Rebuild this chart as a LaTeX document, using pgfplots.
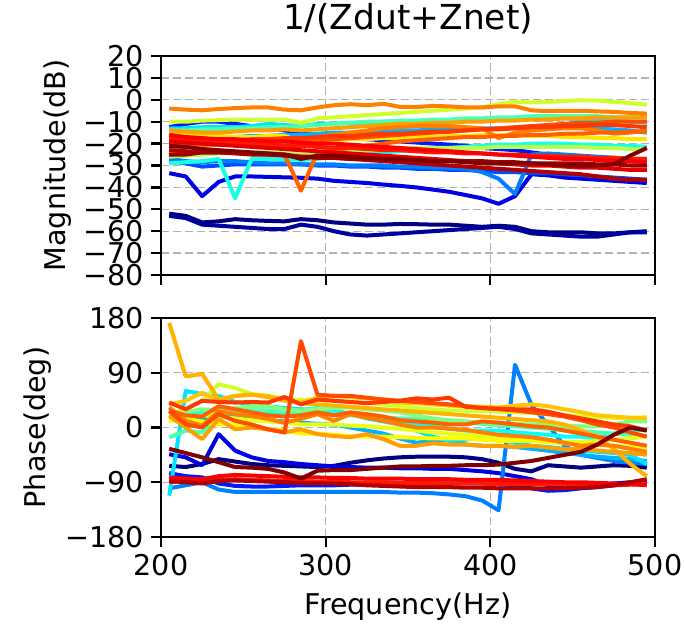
\documentclass[border=0pt]{standalone}
\usepackage{pgfplots}
\pgfplotsset{compat=1.18}
\usepackage{fontspec}
\setmainfont{DejaVu Sans}

% jet colormap samples
\definecolor{j00}{rgb}{0,0,0.5}
\definecolor{j03}{rgb}{0,0,0.62}
\definecolor{j10}{rgb}{0,0,0.9}
\definecolor{j15}{rgb}{0,0.1,1}
\definecolor{j20}{rgb}{0,0.3,1}
\definecolor{j25}{rgb}{0,0.5,1}
\definecolor{j30}{rgb}{0,0.7,1}
\definecolor{j35}{rgb}{0,0.9,1}
\definecolor{j38}{rgb}{0.02,1,0.98}
\definecolor{j40}{rgb}{0.1,1,0.9}
\definecolor{j45}{rgb}{0.3,1,0.7}
\definecolor{j50}{rgb}{0.5,1,0.5}
\definecolor{j55}{rgb}{0.7,1,0.3}
\definecolor{j58}{rgb}{0.82,1,0.18}
\definecolor{j60}{rgb}{0.9,1,0.1}
\definecolor{j63}{rgb}{1,0.98,0}
\definecolor{j65}{rgb}{1,0.9,0}
\definecolor{j68}{rgb}{1,0.78,0}
\definecolor{j70}{rgb}{1,0.7,0}
\definecolor{j72}{rgb}{1,0.62,0}
\definecolor{j75}{rgb}{1,0.5,0}
\definecolor{j78}{rgb}{1,0.38,0}
\definecolor{j80}{rgb}{1,0.3,0}
\definecolor{j82}{rgb}{1,0.22,0}
\definecolor{j85}{rgb}{1,0.1,0}
\definecolor{j88}{rgb}{0.98,0,0}
\definecolor{j90}{rgb}{0.9,0,0}
\definecolor{j95}{rgb}{0.7,0,0}
\definecolor{j97}{rgb}{0.62,0,0}
\definecolor{j100}{rgb}{0.5,0,0}

\pgfplotsset{
  jetax/.style={
    scale only axis, width=247pt, height=109.5pt,
    xmin=200, xmax=500, xtick={200,300,400,500},
    grid=major, grid style={dash pattern=on 4pt off 2pt, color=black!30, line width=0.6pt},
    tick align=outside, tick pos=left, major tick length=5pt,
    every tick/.style={black, line width=1.15pt},
    axis line style={line width=1.15pt},
    tick label style={font=\fontsize{14.3}{16}\selectfont},
    label style={font=\fontsize{14.3}{16}\selectfont},
    every axis plot/.append style={line width=2pt, line join=round},
  }
}

\begin{document}
\begin{tikzpicture}
\path[use as bounding box] (-80.5pt,-45pt) rectangle (261.5pt,268.5pt);

% magnitude
\begin{axis}[jetax, at={(0,131pt)}, anchor=south west,
  ymin=-80, ymax=20, ytick={-80,-70,...,20},
  yticklabels={−80,−70,−60,−50,−40,−30,−20,−10,0,10,20},
  xticklabels={},
  title={1/(Zdut+Znet)},
  title style={font=\fontsize{17.2}{20}\selectfont, at={(axis description cs:0.5,1)}, anchor=base, yshift=7.5pt},
  ylabel={Magnitude(dB)},
  ylabel style={at={(axis description cs:-0.2085,0.5)}, anchor=center},
]
\addplot[j00] coordinates {(205,-52)(215,-53)(225,-56)(235,-55.5)(245,-54.5)(255,-55)(265,-55.3)(275,-55.5)(285,-54.5)(295,-55)(305,-56)(315,-56.5)(325,-57)(335,-57)(345,-56.7)(355,-56.8)(365,-57)(375,-57)(385,-57.5)(395,-58)(405,-57.5)(415,-58)(425,-60)(435,-60.5)(445,-60.5)(455,-60.5)(465,-61)(475,-61)(485,-60.5)(495,-60)};
\addplot[j03] coordinates {(205,-53)(215,-54)(225,-57)(235,-57.5)(245,-58)(255,-58.5)(265,-59)(275,-59)(285,-57)(295,-58)(305,-60)(315,-61.5)(325,-62)(335,-61.5)(345,-61)(355,-60.5)(365,-60)(375,-59.5)(385,-59)(395,-58.5)(405,-58)(415,-59)(425,-61)(435,-61.5)(445,-62)(455,-62.5)(465,-62.5)(475,-61.5)(485,-60.5)(495,-60.5)};
\addplot[j10] coordinates {(205,-33.5)(215,-35)(225,-44)(235,-37.5)(245,-35)(255,-35)(265,-35.2)(275,-35.4)(285,-35.6)(295,-36)(305,-37)(315,-37.5)(325,-38)(335,-38.7)(345,-39.3)(355,-40)(365,-41)(375,-42)(385,-43.5)(395,-45)(405,-47.5)(415,-44)(425,-34)(435,-34.5)(445,-35.5)(455,-36)(465,-36.5)(475,-37)(485,-37.5)(495,-38)};
\addplot[j15] coordinates {(205,-12.5)(215,-11)(225,-10)(235,-10)(245,-11)(255,-12)(265,-13)(275,-14)(285,-15)(295,-16)(305,-17)(315,-17.5)(325,-18)(335,-18.5)(345,-19)(355,-19.5)(365,-20)(375,-20.5)(385,-21)(395,-22)(405,-22.5)(415,-23)(425,-24)(435,-25)(445,-25.5)(455,-26)(465,-26.5)(475,-26.5)(485,-27)(495,-27)};
\addplot[j20] coordinates {(205,-28)(215,-29)(225,-30.5)(235,-30)(245,-29.5)(255,-29.5)(265,-29.5)(275,-29.5)(285,-29.5)(295,-30)(305,-30)(315,-30.5)(325,-30.5)(335,-31)(345,-31)(355,-31.5)(365,-31.5)(375,-32)(385,-32)(395,-32.5)(405,-33)(415,-33)(425,-33.5)(435,-33.5)(445,-34)(455,-34.5)(465,-35)(475,-35.5)(485,-36)(495,-36.5)};
\addplot[j25] coordinates {(205,-27)(215,-28)(225,-28.5)(235,-28)(245,-28)(255,-28.5)(265,-29)(275,-29)(285,-29.5)(295,-29.5)(305,-29.5)(315,-30)(325,-30)(335,-30)(345,-30.5)(355,-30.5)(365,-31)(375,-31)(385,-31.5)(395,-33)(405,-36)(415,-43)(425,-25)(435,-24.5)(445,-25)(455,-25.5)(465,-26)(475,-26.5)(485,-27)(495,-28)};
\addplot[j30] coordinates {(205,-18)(215,-18)(225,-17.5)(235,-17)(245,-17)(255,-16.5)(265,-16.5)(275,-16)(285,-16)(295,-15.5)(305,-15)(315,-15)(325,-14.5)(335,-14.5)(345,-14)(355,-14)(365,-13.5)(375,-13.5)(385,-13)(395,-13)(405,-13)(415,-13)(425,-13)(435,-12.5)(445,-12.5)(455,-12.5)(465,-13)(475,-13.5)(485,-14)(495,-15)};
\addplot[j35] coordinates {(205,-13)(215,-13)(225,-12.5)(235,-12.5)(245,-12.5)(255,-12)(265,-11)(275,-11.5)(285,-12)(295,-11)(305,-11)(315,-10.5)(325,-10.5)(335,-10)(345,-10)(355,-10)(365,-9.5)(375,-9.5)(385,-9)(395,-9)(405,-9)(415,-8.5)(425,-8.5)(435,-8.5)(445,-8.5)(455,-9)(465,-9.5)(475,-9.5)(485,-10)(495,-10.5)};
\addplot[j40] coordinates {(205,-29)(215,-28.5)(225,-28)(235,-27)(245,-45)(255,-27)(265,-27)(275,-27)(285,-27.5)(295,-27)(305,-26)(315,-25)(325,-24.5)(335,-24)(345,-23.5)(355,-23)(365,-22.5)(375,-22)(385,-21.5)(395,-21)(405,-20.5)(415,-20.5)(425,-20)(435,-20)(445,-20)(455,-20.5)(465,-20.5)(475,-21)(485,-21)(495,-21.5)};
\addplot[j45] coordinates {(205,-14)(215,-14)(225,-13.5)(235,-13.5)(245,-13)(255,-13)(265,-12.5)(275,-12.5)(285,-12)(295,-11.5)(305,-11)(315,-10.5)(325,-10)(335,-10)(345,-9.5)(355,-9.5)(365,-9)(375,-9)(385,-8.5)(395,-8.5)(405,-8)(415,-8)(425,-7.5)(435,-7.5)(445,-7.5)(455,-7.5)(465,-7.5)(475,-8)(485,-8)(495,-8)};
\addplot[j55] coordinates {(205,-26)(215,-25.5)(225,-25)(235,-24.5)(245,-24)(255,-24)(265,-24)(275,-24.5)(285,-24.5)(295,-24)(305,-23.5)(315,-23)(325,-23)(335,-22.5)(345,-22.5)(355,-22)(365,-22)(375,-22)(385,-22)(395,-22)(405,-21.5)(415,-21.5)(425,-21.5)(435,-21.5)(445,-21.5)(455,-21.5)(465,-22)(475,-22)(485,-22.5)(495,-22.5)};
\addplot[j58] coordinates {(205,-10)(215,-10)(225,-9.5)(235,-9.3)(245,-9)(255,-9)(265,-9)(275,-9)(285,-10.5)(295,-8.5)(305,-8)(315,-7.5)(325,-7)(335,-6.5)(345,-6)(355,-5.5)(365,-5)(375,-4.5)(385,-4)(395,-3.5)(405,-2)(415,-1)(425,-1.2)(435,-1)(445,-0.5)(455,-0.2)(465,-0.3)(475,-1)(485,-1.5)(495,-2.3)};
\addplot[j65] coordinates {(205,-16)(215,-16)(225,-16.5)(235,-16.5)(245,-17)(255,-17)(265,-16.5)(275,-16.5)(285,-19)(295,-19)(305,-18.5)(315,-18)(325,-18)(335,-17.5)(345,-17.5)(355,-17)(365,-17)(375,-16.5)(385,-16.5)(395,-16)(405,-16)(415,-16)(425,-16.5)(435,-16.5)(445,-17)(455,-17)(465,-17.5)(475,-17.5)(485,-18)(495,-18)};
\addplot[j72] coordinates {(205,-14)(215,-14.5)(225,-15)(235,-15)(245,-14.5)(255,-14)(265,-14)(275,-13.5)(285,-14)(295,-13.5)(305,-13)(315,-12.5)(325,-12)(335,-11.5)(345,-11)(355,-11)(365,-10.5)(375,-10.5)(385,-10)(395,-10)(405,-9.5)(415,-9.5)(425,-9)(435,-9)(445,-8.5)(455,-8.5)(465,-8)(475,-8)(485,-8)(495,-8)};
\addplot[j75] coordinates {(205,-4)(215,-4.5)(225,-4.8)(235,-4.2)(245,-3.8)(255,-3.5)(265,-3.5)(275,-4.5)(285,-4.8)(295,-3.5)(305,-2.5)(315,-2)(325,-2.5)(335,-1.8)(345,-3.2)(355,-3.3)(365,-2.8)(375,-3)(385,-3.5)(395,-3.5)(405,-3)(415,-3)(425,-4.8)(435,-5.2)(445,-5)(455,-5)(465,-5.3)(475,-5.5)(485,-6)(495,-6.3)};
\addplot[j75] coordinates {(205,-22)(215,-21.5)(225,-21)(235,-20.5)(245,-20)(255,-20)(265,-19.5)(275,-19)(285,-18)(295,-17)(305,-16)(315,-15)(325,-14)(335,-13)(345,-12.5)(355,-12)(365,-12)(375,-12)(385,-12.5)(395,-13)(405,-17.5)(415,-15)(425,-14)(435,-13.5)(445,-13)(455,-13)(465,-14)(475,-15.5)(485,-15)(495,-14)};
\addplot[j78] coordinates {(205,-25)(215,-24.5)(225,-24)(235,-24)(245,-24)(255,-24.5)(265,-24.5)(275,-25)(285,-41.5)(295,-24)(305,-23)(315,-22)(325,-21)(335,-20)(345,-19)(355,-18.5)(365,-18)(375,-17.5)(385,-17)(395,-17)(405,-16.5)(415,-16.5)(425,-16)(435,-16)(445,-15.5)(455,-15.5)(465,-15)(475,-15)(485,-14.5)(495,-14.5)};
\addplot[j80] coordinates {(205,-20)(215,-20)(225,-20)(235,-20)(245,-20)(255,-19.5)(265,-19.5)(275,-19)(285,-19)(295,-18.5)(305,-18)(315,-17.5)(325,-17)(335,-16.5)(345,-16)(355,-15.5)(365,-15)(375,-14.5)(385,-14)(395,-13.5)(405,-13)(415,-12.5)(425,-12)(435,-11.5)(445,-11)(455,-10.5)(465,-10.5)(475,-10)(485,-10)(495,-10)};
\addplot[j82] coordinates {(205,-18)(215,-18)(225,-18.5)(235,-18.5)(245,-18.5)(255,-18)(265,-18)(275,-17.5)(285,-17.5)(295,-17)(305,-16.5)(315,-16.5)(325,-16)(335,-15.5)(345,-15.5)(355,-15)(365,-14.5)(375,-14.5)(385,-14)(395,-13.5)(405,-13.5)(415,-13)(425,-12.5)(435,-12.5)(445,-12)(455,-12)(465,-11.5)(475,-11.5)(485,-12)(495,-12.5)};
\addplot[j85] coordinates {(205,-18)(215,-18.5)(225,-19)(235,-19.5)(245,-20)(255,-20)(265,-20.5)(275,-21)(285,-21)(295,-21.5)(305,-22)(315,-22)(325,-22.5)(335,-23)(345,-23)(355,-23.5)(365,-24)(375,-24)(385,-24.5)(395,-24.5)(405,-25)(415,-25)(425,-25.5)(435,-25.5)(445,-26)(455,-26)(465,-26.5)(475,-26.5)(485,-27)(495,-27)};
\addplot[j88] coordinates {(205,-16)(215,-17)(225,-17.5)(235,-18)(245,-18)(255,-18.5)(265,-19)(275,-19)(285,-19.5)(295,-20)(305,-20)(315,-20.5)(325,-21)(335,-21.5)(345,-22)(355,-22.5)(365,-23)(375,-23.5)(385,-24)(395,-24.5)(405,-25)(415,-25.5)(425,-26)(435,-26.5)(445,-27)(455,-27)(465,-27.5)(475,-28)(485,-28)(495,-28.5)};
\addplot[j90] coordinates {(205,-19)(215,-19.5)(225,-20)(235,-20.5)(245,-21)(255,-21.5)(265,-22)(275,-22.5)(285,-23)(295,-23.5)(305,-24)(315,-24.5)(325,-25)(335,-25.5)(345,-26)(355,-26.5)(365,-27)(375,-27.5)(385,-28)(395,-28.5)(405,-29)(415,-29.5)(425,-30)(435,-30)(445,-30.5)(455,-31)(465,-31)(475,-31.5)(485,-32)(495,-32)};
\addplot[j95] coordinates {(205,-23)(215,-23.5)(225,-24)(235,-24)(245,-24.5)(255,-25)(265,-25)(275,-25.5)(285,-26)(295,-26)(305,-26.5)(315,-27)(325,-27.5)(335,-28)(345,-28.5)(355,-29)(365,-29.5)(375,-30)(385,-30.5)(395,-31)(405,-31.5)(415,-32)(425,-32.5)(435,-33)(445,-33.5)(455,-34)(465,-35)(475,-36)(485,-36.5)(495,-36.5)};
\addplot[j97] coordinates {(205,-25)(215,-25)(225,-24)(235,-24)(245,-24)(255,-24.5)(265,-25)(275,-25)(285,-26)(295,-26.5)(305,-26.5)(315,-27)(325,-27)(335,-27)(345,-27.5)(355,-27.5)(365,-28)(375,-28)(385,-28)(395,-28)(405,-28.5)(415,-28.5)(425,-29)(435,-29)(445,-29)(455,-29)(465,-29.5)(475,-29.5)(485,-30)(495,-30)};
\addplot[j100] coordinates {(205,-21)(215,-21.5)(225,-22.5)(235,-23)(245,-23.5)(255,-24)(265,-24.5)(275,-25)(285,-27)(295,-25.5)(305,-25.5)(315,-26)(325,-26.5)(335,-27)(345,-27)(355,-27.5)(365,-28)(375,-28)(385,-28.5)(395,-29)(405,-29)(415,-29)(425,-29)(435,-29.5)(445,-30)(455,-30)(465,-30)(475,-29.5)(485,-25.5)(495,-22)};
\end{axis}

% phase
\begin{axis}[jetax, at={(0,0)}, anchor=south west,
  ymin=-180, ymax=180, ytick={-180,-90,0,90,180},
  yticklabels={−180,−90,0,90,180},
  xticklabels={200,300,400,500},
  xlabel={Frequency(Hz)},
  xlabel style={at={(axis description cs:0.5,0)}, anchor=center, yshift=-35pt},
  ylabel={Phase(deg)},
  ylabel style={at={(axis description cs:-0.249,0.5)}, anchor=center},
]
\addplot[j00] coordinates {(205,-63)(215,-65)(225,-60)(235,-52)(245,-56)(255,-60)(265,-62)(275,-63)(285,-64)(295,-65)(305,-63)(315,-58)(325,-54)(335,-51)(345,-49)(355,-48)(365,-48)(375,-48)(385,-49)(395,-52)(405,-58)(415,-68)(425,-72)(435,-62)(445,-64)(455,-66)(465,-64)(475,-62)(485,-63)(495,-66)};
\addplot[j10] coordinates {(205,-44)(215,-49)(225,-62)(235,-11)(245,-38)(255,-49)(265,-55)(275,-57)(285,-60)(295,-62)(305,-64)(315,-65)(325,-66)(335,-66)(345,-67)(355,-67)(365,-68)(375,-68)(385,-70)(395,-72)(405,-75)(415,-80)(425,-85)(435,-95)(445,-100)(455,-98)(465,-95)(475,-92)(485,-90)(495,-88)};
\addplot[j15] coordinates {(205,-75)(215,-80)(225,-82)(235,-92)(245,-96)(255,-97)(265,-97)(275,-96)(285,-95)(295,-95)(305,-95)(315,-94)(325,-94)(335,-93)(345,-93)(355,-93)(365,-92)(375,-92)(385,-92)(395,-92)(405,-93)(415,-95)(425,-100)(435,-104)(445,-103)(455,-100)(465,-98)(475,-95)(485,-92)(495,-88)};
\addplot[j25] coordinates {(205,-100)(215,-95)(225,-90)(235,-102)(245,-106)(255,-106)(265,-106)(275,-106)(285,-106)(295,-106)(305,-106)(315,-106)(325,-106)(335,-106)(345,-107)(355,-107)(365,-108)(375,-110)(385,-113)(395,-120)(405,-136)(415,103)(425,37)(435,4)(445,-30)(455,-45)(465,-50)(475,-55)(485,-58)(495,-60)};
\addplot[j30] coordinates {(205,22)(215,18)(225,15)(235,18)(245,20)(255,17)(265,12)(275,10)(285,8)(295,6)(305,5)(315,0)(325,-5)(335,-10)(345,-18)(355,-25)(365,-22)(375,-20)(385,-28)(395,-30)(405,-30)(415,-32)(425,-35)(435,-38)(445,-42)(455,-45)(465,-48)(475,-50)(485,-52)(495,-55)};
\addplot[j35] coordinates {(205,-112)(215,60)(225,55)(235,52)(245,42)(255,38)(265,35)(275,32)(285,30)(295,30)(305,28)(315,22)(325,15)(335,10)(345,5)(355,-5)(365,-15)(375,-22)(385,-20)(395,-15)(405,-20)(415,-25)(425,-30)(435,-32)(445,-35)(455,-38)(465,-40)(475,-42)(485,-45)(495,-60)};
\addplot[j38] coordinates {(205,25)(215,20)(225,25)(235,30)(245,30)(255,28)(265,25)(275,22)(285,28)(295,32)(305,28)(315,22)(325,20)(335,15)(345,10)(355,5)(365,2)(375,-2)(385,-5)(395,-5)(405,-5)(415,-8)(425,-10)(435,-12)(445,-15)(455,-15)(465,-18)(475,-10)(485,-5)(495,-3)};
\addplot[j45] coordinates {(205,-16)(215,-5)(225,-8)(235,22)(245,25)(255,28)(265,28)(275,26)(285,25)(295,24)(305,22)(315,20)(325,18)(335,16)(345,15)(355,14)(365,12)(375,10)(385,8)(395,6)(405,4)(415,2)(425,0)(435,-2)(445,-4)(455,-6)(465,-8)(475,-10)(485,-12)(495,-14)};
\addplot[j50] coordinates {(205,20)(215,25)(225,30)(235,28)(245,32)(255,35)(265,35)(275,30)(285,28)(295,30)(305,32)(315,33)(325,30)(335,28)(345,25)(355,20)(365,15)(375,12)(385,10)(395,8)(405,8)(415,6)(425,5)(435,4)(445,3)(455,2)(465,2)(475,5)(485,10)(495,10)};
\addplot[j58] coordinates {(205,22)(215,30)(225,44)(235,71)(245,65)(255,55)(265,52)(275,48)(285,45)(295,45)(305,44)(315,42)(325,40)(335,38)(345,35)(355,32)(365,30)(375,28)(385,28)(395,27)(405,26)(415,25)(425,24)(435,22)(445,20)(455,18)(465,17)(475,16)(485,16)(495,17)};
\addplot[j60] coordinates {(205,10)(215,15)(225,20)(235,18)(245,15)(255,12)(265,10)(275,8)(285,5)(295,5)(305,5)(315,3)(325,2)(335,0)(345,-2)(355,-5)(365,-8)(375,-10)(385,-12)(395,-14)(405,-16)(415,-18)(425,-20)(435,-22)(445,-24)(455,-24)(465,-22)(475,-20)(485,-18)(495,-15)};
\addplot[j63] coordinates {(205,15)(215,12)(225,10)(235,5)(245,5)(255,0)(265,-2)(275,-5)(285,-10)(295,-10)(305,-12)(315,-14)(325,-15)(335,-15)(345,-16)(355,-17)(365,-18)(375,-18)(385,-18)(395,-20)(405,-22)(415,-22)(425,-22)(435,-24)(445,-26)(455,-28)(465,-28)(475,-30)(485,-32)(495,-35)};
\addplot[j68] coordinates {(205,38)(215,44)(225,57)(235,44)(245,52)(255,54)(265,52)(275,44)(285,41)(295,49)(305,52)(315,50)(325,48)(335,46)(345,41)(355,40)(365,38)(375,36)(385,35)(395,34)(405,33)(415,36)(425,38)(435,35)(445,30)(455,25)(465,20)(475,18)(485,16)(495,15)};
\addplot[j70] coordinates {(205,172)(215,84)(225,88)(235,46)(245,52)(255,54)(265,50)(275,45)(285,40)(295,38)(305,36)(315,34)(325,32)(335,30)(345,28)(355,26)(365,24)(375,22)(385,20)(395,18)(405,16)(415,14)(425,12)(435,10)(445,5)(455,-5)(465,-15)(475,-35)(485,-60)(495,-80)};
\addplot[j72] coordinates {(205,19)(215,0)(225,-19)(235,14)(245,-3)(255,0)(265,-3)(275,-8)(285,-3)(295,-11)(305,-14)(315,-16)(325,-11)(335,-19)(345,-30)(355,-30)(365,-26)(375,-28)(385,-28)(395,-30)(405,-30)(415,-32)(425,-30)(435,-33)(445,-36)(455,-35)(465,-38)(475,-40)(485,-42)(495,-45)};
\addplot[j75] coordinates {(205,33)(215,11)(225,3)(235,27)(245,22)(255,19)(265,14)(275,8)(285,14)(295,22)(305,11)(315,22)(325,16)(335,11)(345,5)(355,0)(365,0)(375,-2)(385,-4)(395,-8)(405,-12)(415,-14)(425,-16)(435,-20)(445,-25)(455,-30)(465,-28)(475,-30)(485,-35)(495,-40)};
\addplot[j78] coordinates {(205,28)(215,20)(225,18)(235,35)(245,30)(255,25)(265,20)(275,18)(285,20)(295,25)(305,20)(315,25)(325,22)(335,18)(345,12)(355,10)(365,8)(375,5)(385,5)(395,10)(405,8)(415,5)(425,2)(435,0)(445,-5)(455,-10)(465,-15)(475,-20)(485,-25)(495,-30)};
\addplot[j80] coordinates {(205,27)(215,5)(225,0)(235,22)(245,11)(255,5)(265,-3)(275,-8)(285,142)(295,54)(305,52)(315,52)(325,49)(335,46)(345,44)(355,42)(365,40)(375,38)(385,35)(395,32)(405,30)(415,28)(425,25)(435,22)(445,18)(455,12)(465,5)(475,0)(485,-8)(495,-15)};
\addplot[j82] coordinates {(205,41)(215,30)(225,44)(235,42)(245,41)(255,42)(265,41)(275,50)(285,38)(295,46)(305,44)(315,42)(325,40)(335,42)(345,44)(355,48)(365,46)(375,49)(385,34)(395,32)(405,31)(415,30)(425,30)(435,26)(445,20)(455,15)(465,10)(475,5)(485,2)(495,-5)};
\addplot[j85] coordinates {(205,-90)(215,-88)(225,-90)(235,-86)(245,-85)(255,-86)(265,-87)(275,-88)(285,-88)(295,-89)(305,-89)(315,-90)(325,-90)(335,-90)(345,-91)(355,-91)(365,-91)(375,-92)(385,-92)(395,-92)(405,-93)(415,-93)(425,-93)(435,-93)(445,-94)(455,-94)(465,-95)(475,-95)(485,-94)(495,-93)};
\addplot[j88] coordinates {(205,-82)(215,-84)(225,-85)(235,-80)(245,-78)(255,-79)(265,-80)(275,-81)(285,-82)(295,-82)(305,-83)(315,-83)(325,-84)(335,-84)(345,-84)(355,-85)(365,-85)(375,-85)(385,-86)(395,-86)(405,-86)(415,-87)(425,-88)(435,-89)(445,-90)(455,-90)(465,-91)(475,-92)(485,-93)(495,-95)};
\addplot[j95] coordinates {(205,-88)(215,-90)(225,-92)(235,-88)(245,-87)(255,-88)(265,-89)(275,-90)(285,-91)(295,-92)(305,-92)(315,-93)(325,-95)(335,-96)(345,-97)(355,-98)(365,-98)(375,-98)(385,-99)(395,-99)(405,-100)(415,-100)(425,-100)(435,-100)(445,-100)(455,-99)(465,-98)(475,-95)(485,-90)(495,-85)};
\addplot[j100] coordinates {(205,-35)(215,-42)(225,-49)(235,-57)(245,-65)(255,-66)(265,-68)(275,-74)(285,-84)(295,-71)(305,-70)(315,-70)(325,-68)(335,-66)(345,-64)(355,-64)(365,-63)(375,-63)(385,-62)(395,-62)(405,-61)(415,-58)(425,-55)(435,-50)(445,-45)(455,-40)(465,-28)(475,-12)(485,0)(495,-5)};
\end{axis}
\end{tikzpicture}
\end{document}
